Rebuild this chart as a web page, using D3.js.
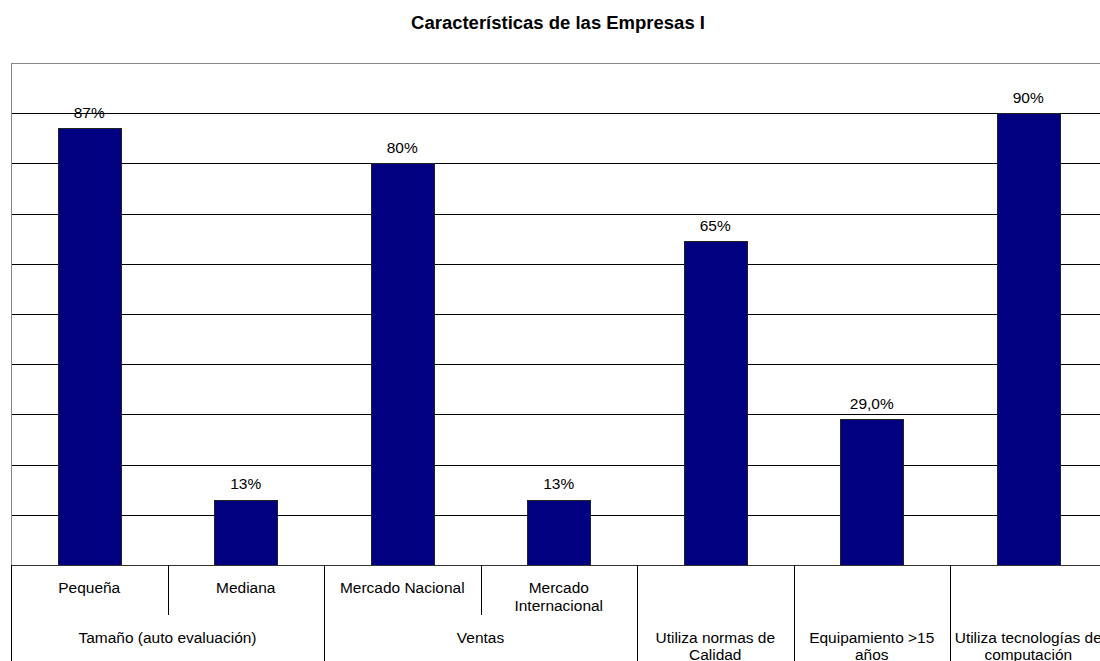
<!DOCTYPE html>
<html><head><meta charset="utf-8">
<script src="https://cdn.jsdelivr.net/npm/d3@7"></script>
<style>body{margin:0;background:#fff;overflow:hidden}svg{display:block;font-family:"Liberation Sans",Arial,sans-serif}</style>
</head><body>
<script>
const title = "Características de las Empresas I";
const categories = ["Pequeña","Mediana","Mercado Nacional","Mercado Internacional","Utiliza normas de Calidad","Equipamiento >15 años","Utiliza tecnologías de computación"];
const values = [0.87,0.13,0.80,0.13,0.645,0.29,0.90];
const valueLabels = ["87%","13%","80%","13%","65%","29,0%","90%"];
const level1Lines = [["Pequeña"],["Mediana"],["Mercado Nacional"],["Mercado","Internacional"],[],[],[]];
const groupLines = [["Tamaño (auto evaluación)"],["Ventas"],["Utiliza normas de","Calidad"],["Equipamiento >15","años"],["Utiliza tecnologías de","computación"]];
const groupStart = [0,2,4,5,6];
const groupSize = [2,2,1,1,1];
const yTicks = [0,0.1,0.2,0.3,0.4,0.5,0.6,0.7,0.8,0.9,1.0];

(function(){
const W=1100,H=661;
const pL=11,pR=1106.5,pT=63,pB=565;
const svg=d3.select("body").append("svg").attr("width",W).attr("height",H);

function measure(txt,weight){
  const t=svg.append("text").attr("font-size",100).attr("font-weight",weight).text(txt);
  const w=t.node().getComputedTextLength(); t.remove(); return w/100;
}
const labelFs=((124/measure("Mercado Nacional","normal"))+(179/measure("Tamaño (auto evaluación)","normal")))/2;
const titleFs=294/measure(title,"bold");

const x=d3.scaleBand().domain(d3.range(categories.length)).range([pL,pR]);
const y=d3.scaleLinear().domain([0,1]).range([pB,pT]);

svg.append("text").attr("x",558).attr("y",28.5).attr("text-anchor","middle")
  .attr("font-size",titleFs).attr("font-weight","bold").text(title);

// gridlines
svg.append("g").selectAll("line").data(yTicks.filter(d=>d>0&&d<1)).join("line")
  .attr("x1",pL).attr("x2",pR).attr("y1",d=>Math.round(y(d))+0.5).attr("y2",d=>Math.round(y(d))+0.5)
  .attr("stroke","#000").attr("stroke-width",1);

// plot border
svg.append("rect").attr("x",pL+0.5).attr("y",pT+0.5).attr("width",pR-pL).attr("height",pB-pT)
  .attr("fill","none").attr("stroke","#888").attr("stroke-width",1);

// bars
const bw=Math.round(x.bandwidth()*0.4);
svg.append("g").selectAll("rect").data(values).join("rect")
  .attr("x",(d,i)=>Math.round(x(i)+x.bandwidth()/2-bw/2)+0.5)
  .attr("y",d=>Math.round(y(d))+0.5)
  .attr("width",bw).attr("height",d=>pB-Math.round(y(d)))
  .attr("fill","#000080").attr("stroke","#222").attr("stroke-width",1);

// value labels
svg.append("g").selectAll("text").data(values).join("text")
  .attr("x",(d,i)=>x(i)+x.bandwidth()/2).attr("y",d=>y(d)-10.5)
  .attr("text-anchor","middle").attr("font-size",labelFs).attr("fill","#000")
  .text((d,i)=>valueLabels[i]);

// axis line
svg.append("line").attr("x1",pL).attr("x2",pR).attr("y1",pB+0.5).attr("y2",pB+0.5)
  .attr("stroke","#333").attr("stroke-width",1);

// category separators
const boundaries=d3.range(categories.length+1);
const groupBounds=new Set(groupStart.concat([categories.length]));
svg.append("g").selectAll("line").data(boundaries).join("line")
  .attr("x1",i=>Math.round(i<categories.length?x(i):pR)+0.5)
  .attr("x2",i=>Math.round(i<categories.length?x(i):pR)+0.5)
  .attr("y1",pB).attr("y2",i=>groupBounds.has(i)?H:615)
  .attr("stroke","#000").attr("stroke-width",1);

// level 1 labels
const l1=svg.append("g").attr("font-size",labelFs).attr("text-anchor","middle");
level1Lines.forEach((lines,i)=>{
  lines.forEach((t,k)=>{
    l1.append("text").attr("x",x(i)+x.bandwidth()/2).attr("y",593+k*17.5).text(t);
  });
});
// level 2 labels
const l2=svg.append("g").attr("font-size",labelFs).attr("text-anchor","middle");
groupLines.forEach((lines,g)=>{
  const cx=x(groupStart[g])+groupSize[g]*x.bandwidth()/2;
  lines.forEach((t,k)=>{
    l2.append("text").attr("x",cx).attr("y",642.5+k*17.5).text(t);
  });
});
})();
</script>
</body></html>
